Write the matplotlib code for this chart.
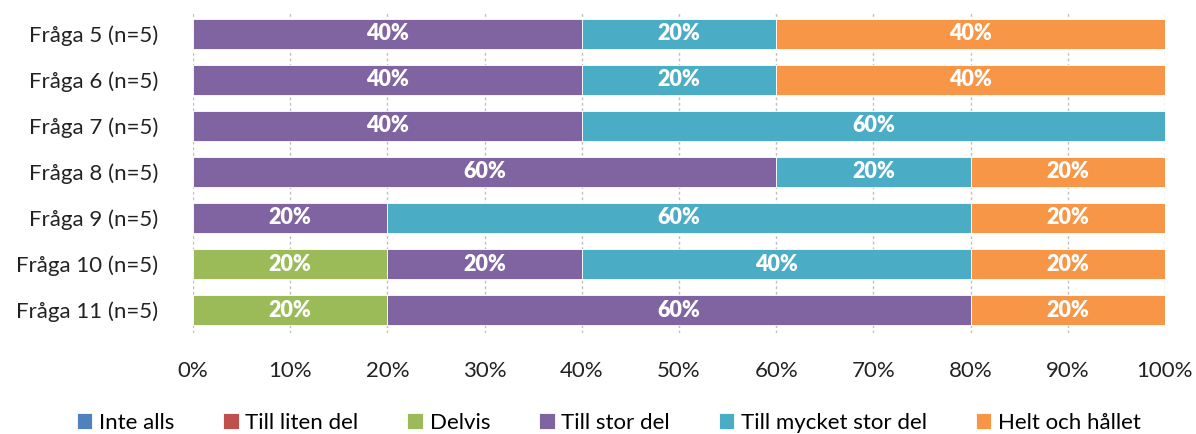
import numpy as np
import matplotlib.pyplot as plt

questions = ["Fråga 5 (n=5)", "Fråga 6 (n=5)", "Fråga 7 (n=5)", "Fråga 8 (n=5)",
             "Fråga 9 (n=5)", "Fråga 10 (n=5)", "Fråga 11 (n=5)"]
categories = ["Inte alls", "Till liten del", "Delvis", "Till stor del",
              "Till mycket stor del", "Helt och hållet"]
colors = ["#4F81BD", "#C0504D", "#9BBB59", "#8064A2", "#4BACC6", "#F79646"]

inte_alls = [0, 0, 0, 0, 0, 0, 0]
till_liten_del = [0, 0, 0, 0, 0, 0, 0]
delvis = [0, 0, 0, 0, 0, 20, 20]
till_stor_del = [40, 40, 40, 60, 20, 20, 60]
till_mycket_stor_del = [20, 20, 60, 20, 60, 40, 0]
helt_och_hallet = [40, 40, 0, 20, 20, 20, 20]

series = [inte_alls, till_liten_del, delvis, till_stor_del,
          till_mycket_stor_del, helt_och_hallet]

plt.rcParams['font.family'] = ['Lato', 'DejaVu Sans']

fig = plt.figure(figsize=(11.96, 4.34), dpi=100)
ax = fig.add_axes([0.1614, 0.2327, 0.8126, 0.742])

y = np.arange(len(questions))
left = np.zeros(len(questions))
for name, vals, col in zip(categories, series, colors):
    vals = np.array(vals, dtype=float)
    ax.barh(y, vals, left=left, height=0.65, color=col, label=name,
            edgecolor='white', linewidth=0.6, zorder=3)
    for yi, (l, v) in enumerate(zip(left, vals)):
        if v > 0:
            ax.text(l + v / 2, yi, f"{v:.0f}%", ha='center', va='center',
                    color='white', fontsize=15.5, fontweight='heavy', zorder=4)
    left += vals

ax.set_xlim(0, 100)
ax.set_ylim(len(questions) - 0.5, -0.5)
ax.set_yticks(y)
ax.set_yticklabels(questions, fontsize=16, color='#222222')
ax.set_xticks(np.arange(0, 101, 10))
ax.set_xticklabels([f"{t}%" for t in range(0, 101, 10)], fontsize=16, color='#222222')
ax.tick_params(axis='y', length=0, pad=25)
ax.tick_params(axis='x', length=0, pad=20)
ax.grid(axis='x', color='#BFBFBF', linestyle=(0, (2, 2)), linewidth=1, zorder=0)
for s in ax.spines.values():
    s.set_visible(False)

ax.legend(loc='center', bbox_to_anchor=(0.509, 0.026), bbox_transform=fig.transFigure,
          ncol=6, frameon=False, fontsize=16, handlelength=0.7, handleheight=0.7,
          handletextpad=0.3, columnspacing=2.2)

fig.savefig("out.png", dpi=100)
